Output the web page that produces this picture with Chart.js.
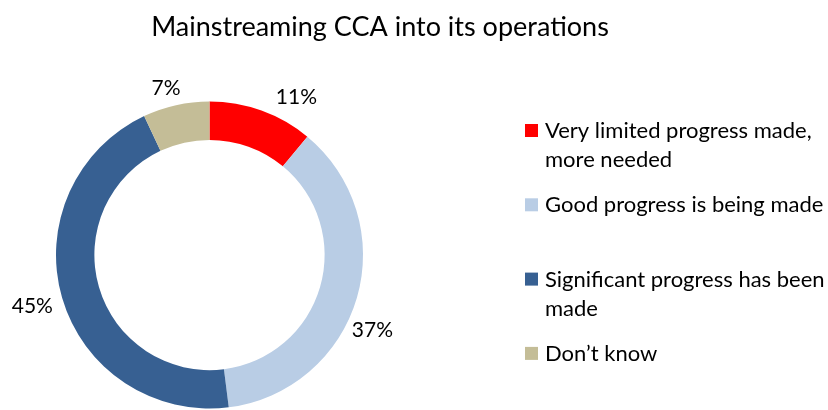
<!DOCTYPE html>
<html>
<head>
<meta charset="utf-8">
<script src="https://cdn.jsdelivr.net/npm/chart.js@4"></script>
<style>
  html, body { margin: 0; padding: 0; background: #fff; }
  #wrap { width: 828px; height: 410px; }
</style>
</head>
<body>
<div id="wrap"><canvas id="chart" width="828" height="410"></canvas></div>
<script>
const chartTitle = "Mainstreaming CCA into its operations";
const categories = [
  ["Very limited progress made,", "more needed"],
  ["Good progress is being made"],
  ["Significant progress has been", "made"],
  ["Don\u2019t know"],
];
const shares = [11, 37, 45, 7];
const sliceColors = ["#FF0000", "#B9CDE5", "#376092", "#C4BD97"];

const FONT = "Lato, 'Open Sans', sans-serif";
// label placement: extra distance past the ring, and a small turn (degrees)
const labelGap = [27, 26, 31, 19];
const labelTurn = [9, 8.6, 0, -2];

// title, percent labels and the wrapped legend are drawn by hand
const decorations = {
  id: "decorations",
  afterDraw(chart) {
    const ctx = chart.ctx;
    ctx.save();
    ctx.fillStyle = "#000";

    ctx.font = `27px ${FONT}`;
    ctx.textAlign = "center";
    ctx.textBaseline = "middle";
    ctx.fillText(chartTitle, 380, 27);

    const meta = chart.getDatasetMeta(0);
    ctx.font = `21px ${FONT}`;
    meta.data.forEach((arc, i) => {
      const p = arc.getProps(["x", "y", "startAngle", "endAngle", "outerRadius"], true);
      const mid = (p.startAngle + p.endAngle) / 2 + (labelTurn[i] * Math.PI) / 180;
      const r = p.outerRadius + labelGap[i];
      ctx.fillText(shares[i] + "%", p.x + Math.cos(mid) * r, p.y + Math.sin(mid) * r);
    });

    ctx.textAlign = "left";
    ctx.font = `22px ${FONT}`;
    categories.forEach((lines, i) => {
      const y0 = 131 + i * 74.3;
      ctx.fillStyle = sliceColors[i];
      ctx.fillRect(525, y0 - 7, 13, 13);
      ctx.fillStyle = "#000";
      lines.forEach((line, j) => ctx.fillText(line, 545, y0 + j * 29));
    });
    ctx.restore();
  },
};

new Chart(document.getElementById("chart"), {
  type: "doughnut",
  data: {
    labels: categories.map((c) => c.join(" ")),
    datasets: [
      {
        data: shares,
        backgroundColor: sliceColors,
        borderWidth: 0,
      },
    ],
  },
  options: {
    responsive: false,
    animation: false,
    cutout: "75%",
    layout: { padding: { left: 56, right: 465, top: 101, bottom: 1 } },
    plugins: {
      legend: { display: false },
      title: { display: false },
      tooltip: { enabled: false },
    },
  },
  plugins: [decorations],
});
</script>
</body>
</html>
